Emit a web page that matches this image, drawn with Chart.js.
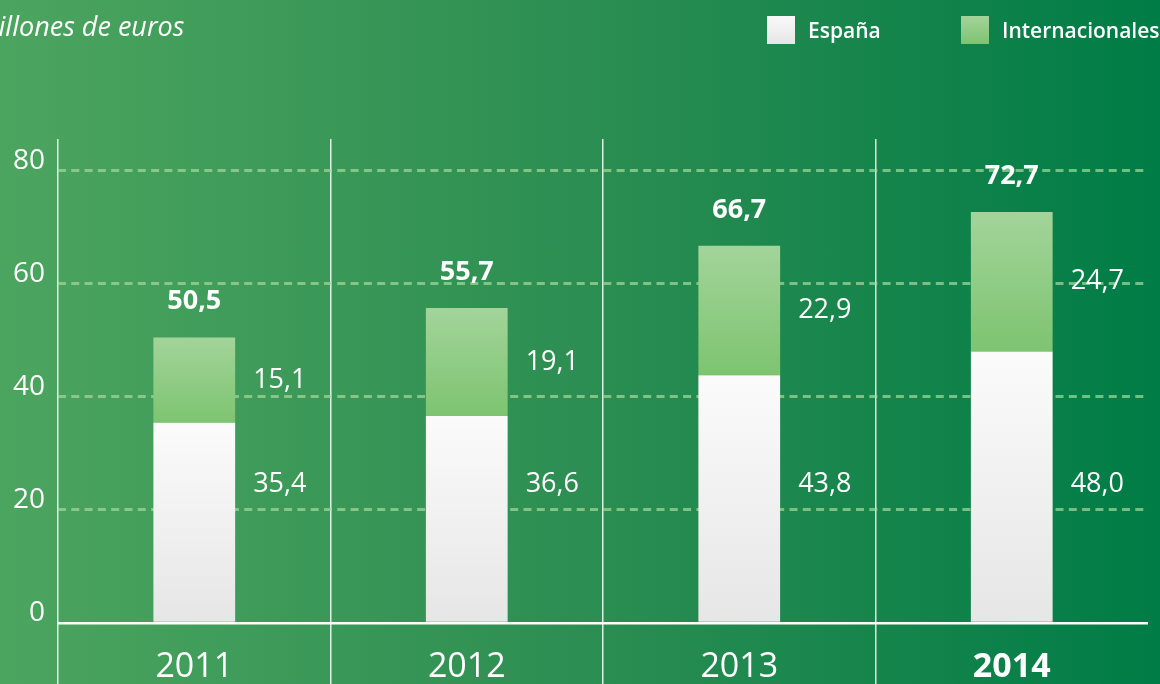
<!DOCTYPE html>
<html>
<head>
<meta charset="utf-8">
<script src="https://cdn.jsdelivr.net/npm/chart.js@4"></script>
<style>
  html, body { margin: 0; padding: 0; }
  body {
    width: 1160px; height: 684px; overflow: hidden; position: relative;
    background: linear-gradient(to right, #4ca55f 0%, #2c8e52 50%, #007c46 100%);
    font-family: "Open Sans", sans-serif; color: #fff;
  }
  #wrap { position: absolute; left: 0; top: 0; width: 1160px; height: 684px; }
  .unit { position: absolute; left: -25px; top: 12px; font-size: 27px; line-height: 27px; font-style: italic; }
  .key { position: absolute; top: 16px; height: 28px; line-height: 28px; font-size: 21px; font-weight: 600; white-space: nowrap; }
  .key i { display: inline-block; width: 28px; height: 28px; vertical-align: top; margin-right: 13px; }
</style>
</head>
<body>
<div id="wrap"><canvas id="chart"></canvas></div>
<div class="unit">millones de euros</div>
<div class="key" style="left:767px"><i style="background:linear-gradient(#f9f9f9,#e6e6e6)"></i>España</div>
<div class="key" style="left:961px"><i style="background:linear-gradient(#a3d49a,#7dc470)"></i>Internacionales</div>
<script>
const years = ['2011', '2012', '2013', '2014'];
const spain = [35.4, 36.6, 43.8, 48.0];
const intl = [15.1, 19.1, 22.9, 24.7];
const totals = [50.5, 55.7, 66.7, 72.7];

const fmt = v => v.toFixed(1).replace('.', ',');
const spainLabelAt = 24.6; // los valores de España van todos a la misma altura

// degradado vertical dentro de cada barra
function barFill(top, bottom) {
  return function (c) {
    const chart = c.chart;
    const y = chart.scales.y;
    if (!y || c.type !== 'data') return bottom;
    const base = c.datasetIndex === 0 ? 0 : spain[c.dataIndex];
    const y0 = y.getPixelForValue(base + c.raw);
    const y1 = y.getPixelForValue(base);
    if (!isFinite(y0) || !isFinite(y1) || y0 === y1) return bottom;
    const g = chart.ctx.createLinearGradient(0, y0, 0, y1);
    g.addColorStop(0, top);
    g.addColorStop(1, bottom);
    return g;
  };
}

const barLabels = {
  id: 'barLabels',
  afterDatasetsDraw(chart) {
    const ctx = chart.ctx;
    const y = chart.scales.y;
    const m0 = chart.getDatasetMeta(0);
    const m1 = chart.getDatasetMeta(1);
    ctx.save();
    ctx.fillStyle = '#fff';
    years.forEach((yr, i) => {
      const b0 = m0.data[i], b1 = m1.data[i];
      const right = b0.x + b0.width / 2;
      ctx.font = '27px "Open Sans"';
      ctx.textAlign = 'left';
      ctx.textBaseline = 'middle';
      ctx.fillText(fmt(spain[i]), right + 18, y.getPixelForValue(spainLabelAt));
      ctx.fillText(fmt(intl[i]), right + 18, (b1.y + b1.base) / 2);
      ctx.font = 'bold 27px "Open Sans"';
      ctx.textAlign = 'center';
      ctx.fillText(fmt(totals[i]), b1.x, y.getPixelForValue(totals[i]) - 36);
    });
    ctx.restore();
  }
};

new Chart(document.getElementById('chart'), {
  type: 'bar',
  data: {
    labels: years,
    datasets: [
      { label: 'España', data: spain, backgroundColor: barFill('#fbfbfb', '#e6e6e6') },
      { label: 'Internacionales', data: intl, backgroundColor: barFill('#a3d49a', '#7dc470') }
    ]
  },
  options: {
    responsive: true,
    maintainAspectRatio: false,
    animation: false,
    datasets: { bar: { barPercentage: 0.3, categoryPercentage: 1 } },
    layout: { padding: { top: 139, left: 0, right: 12, bottom: 0 } },
    plugins: { legend: { display: false }, tooltip: { enabled: false } },
    scales: {
      x: {
        stacked: true,
        offset: true,
        grid: {
          offset: true,
          color: c => c.tick ? 'rgba(255,255,255,0.85)' : 'transparent',
          lineWidth: 1.5,
          drawTicks: false
        },
        border: { display: false },
        ticks: {
          color: '#fff',
          mirror: true,
          padding: 0,
          maxRotation: 0,
          font: c => ({ family: '"Open Sans"', size: 34, lineHeight: 1, weight: c.index === 3 ? 'bold' : 'normal' })
        }
      },
      y: {
        stacked: true,
        min: -10.8,
        max: 85.6,
        afterFit(axis) { axis.paddingBottom = 0; axis.paddingTop = 0; },
        grid: {
          color: c => (c.tick && c.tick.value === 0) ? '#fff' : 'rgba(165,218,155,0.7)',
          lineWidth: c => (c.tick && c.tick.value === 0) ? 2.5 : 3,
          drawTicks: false
        },
        border: { display: false, dash: c => (c.tick && c.tick.value === 0) ? [] : [8, 5.3] },
        ticks: {
          stepSize: 20,
          includeBounds: false,
          color: '#fff',
          padding: 13,
          labelOffset: -10,
          font: { family: '"Open Sans"', size: 28 }
        }
      }
    }
  },
  plugins: [barLabels]
});
</script>
</body>
</html>
